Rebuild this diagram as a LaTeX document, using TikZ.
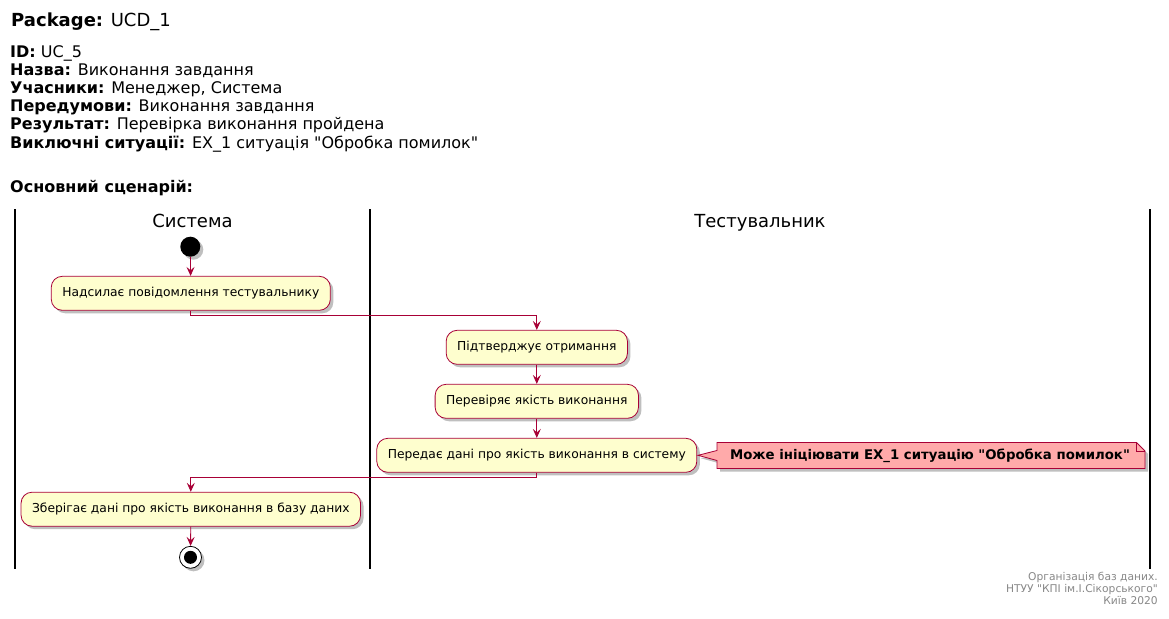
\documentclass[tikz,border=0pt]{standalone}
\usepackage{fontspec}
\setmainfont{DejaVu Sans}[Ligatures=TeXOff]
\usetikzlibrary{arrows.meta,shadows,calc}
\definecolor{umlred}{HTML}{A80036}
\definecolor{umlfill}{HTML}{FEFECE}
\definecolor{notefill}{HTML}{FFAAAA}
\definecolor{footgray}{HTML}{888888}
\tikzset{
  hdr/.style={anchor=base west,inner sep=0pt,font=\fontsize{16}{17}\selectfont},
  lanetitle/.style={anchor=base,inner sep=0pt,font=\fontsize{18}{20}\selectfont},
  lane/.style={line width=1.6pt,black},
  action/.style={draw=umlred,fill=umlfill,line width=0.8pt,rounded corners=11pt,
    minimum height=34pt,inner xsep=11pt,inner ysep=0pt,font=\fontsize{12.3}{14}\selectfont,
    drop shadow={shadow xshift=3pt,shadow yshift=-3pt,opacity=0.25,fill=black}},
  conn/.style={draw=umlred,line width=0.8pt,-{Stealth[length=9pt,width=8pt,inset=3.5pt]}},
  foot/.style={anchor=base east,inner sep=0pt,text=footgray,font=\fontsize{10.7}{12}\selectfont},
}
\begin{document}
\begin{tikzpicture}[x=1pt,y=-1pt]
\useasboundingbox[fill=white] (0,0) rectangle (1169,618);
% header
\node[hdr,font=\fontsize{18}{20}\selectfont] (pkg) at (11,27) {\textbf{Package:} UCD\_1};
\node[hdr] (h1) at (10,57) {\textbf{ID:} UC\_5};
\node[hdr] (h2) at (10,75.2) {\textbf{Назва:} Виконання завдання};
\node[hdr] (h3) at (10,93.4) {\textbf{Учасники:} Менеджер, Система};
\node[hdr] (h4) at (10,111.6) {\textbf{Передумови:} Виконання завдання};
\node[hdr] (h5) at (10,129.8) {\textbf{Результат:} Перевірка виконання пройдена};
\node[hdr] (h6) at (10,148) {\textbf{Виключні ситуації:} EX\_1 ситуація "Обробка помилок"};
\node[hdr] (h7) at (10,192) {\textbf{Основний сценарій:}};
% swimlanes
\draw[lane] (15,209) -- (15,569);
\draw[lane] (370,209) -- (370,569);
\draw[lane] (1150,209) -- (1150,569);
\node[lanetitle] (l1) at (192.5,227) {Система};
\node[lanetitle] (l2) at (760,227) {Тестувальник};
% start / end
\node[circle,fill=black,minimum size=20pt,inner sep=0pt,
  drop shadow={shadow xshift=3pt,shadow yshift=-3pt,opacity=0.25,fill=black}] (start) at (190.3,246.7) {};
\node[circle,draw=black,fill=white,line width=0.8pt,minimum size=22pt,inner sep=0pt,
  drop shadow={shadow xshift=3pt,shadow yshift=-3pt,opacity=0.25,fill=black}] (stop) at (190.5,557.3) {};
\fill[black] (stop.center) circle (6.5pt);
% actions
\node[action] (a1) at (190.8,293.3) {Надсилає повідомлення тестувальнику};
\node[action] (a2) at (536.8,347.3) {Підтверджує отримання};
\node[action] (a3) at (536.8,401.3) {Перевіряє якість виконання};
\node[action] (a4) at (536.8,455.3) {Передає дані про якість виконання в систему};
\node[action] (a5) at (190.8,509.2) {Зберігає дані про якість виконання в базу даних};
% note
\coordinate (ntip) at (698,455.3);
\path[draw=umlred,fill=notefill,line width=0.8pt,
  drop shadow={shadow xshift=3pt,shadow yshift=-3pt,opacity=0.25,fill=black}]
  (717,442.5) -- (1136.5,442.5) -- (1145,451) -- (1145,468.5) -- (717,468.5) -- (717,460.5)
  -- (ntip) -- (717,450.5) -- cycle;
\draw[umlred,line width=0.8pt] (1136.5,442.5) -- (1136.5,451) -- (1145,451);
\node[inner sep=0pt,font=\bfseries\fontsize{13.3}{15}\selectfont] (note) at (930,455.5)
  {Може ініціювати EX\_1 ситуацію "Обробка помилок"};
% connectors
\coordinate (j1) at (0,315.2);
\coordinate (j2) at (0,477.7);
\draw[conn] (start) -- (a1);
\draw[conn] (a1.south) -- (a1.south |- j1) -| (a2.north);
\draw[conn] (a2) -- (a3);
\draw[conn] (a3) -- (a4);
\draw[conn] (a4.south) -- (a4.south |- j2) -| (a5.north);
\draw[conn] (a5) -- (stop);
% footer
\node[foot] (f1) at (1158,580.5) {Організація баз даних.};
\node[foot] (f2) at (1158,592.3) {НТУУ "КПІ ім.І.Сікорського"};
\node[foot] (f3) at (1158,604.1) {Київ 2020};
\end{tikzpicture}
\end{document}
